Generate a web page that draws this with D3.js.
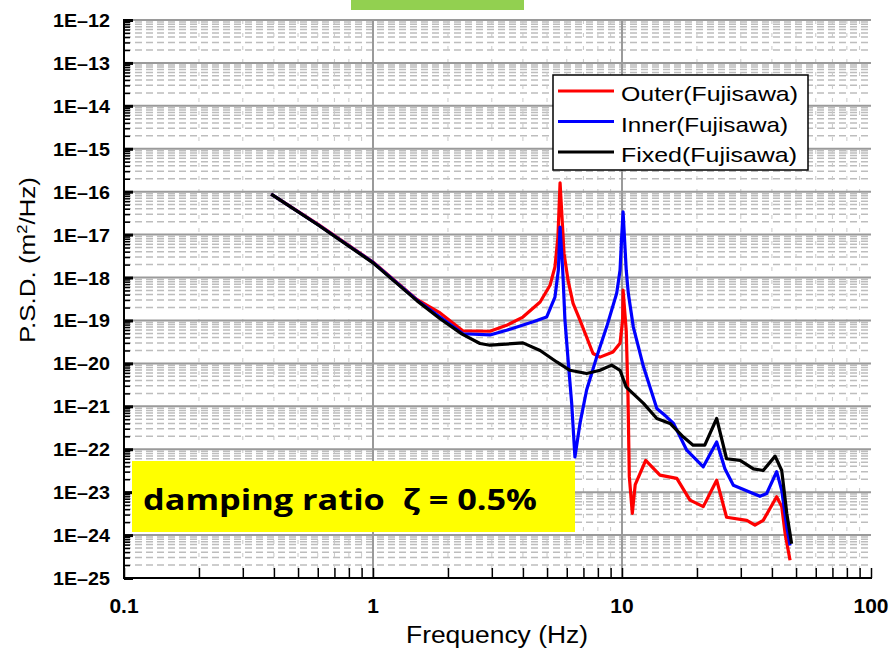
<!DOCTYPE html>
<html>
<head>
<meta charset="utf-8">
<script src="https://cdn.jsdelivr.net/npm/d3@7"></script>
<style>
  body { margin: 0; background: #fff; }
  svg { display: block; }
</style>
</head>
<body>
<script>
// values (PSD, m^2/Hz)
var freqOuter = [0.39, 0.6, 1.0, 1.5, 1.86, 2.3, 2.95, 3.44, 4.0, 4.69, 5.14, 5.38, 5.53, 5.64, 5.85, 6.07, 6.36, 6.78, 7.65, 8.16, 9.2, 9.82, 10.06, 10.1, 10.4, 10.57, 10.7, 11.0, 11.3, 12.45, 14.2, 16.6, 18.75, 21.2, 24.0, 26.3, 31.7, 34.2, 36.9, 41.8, 43.8, 45.2, 47.3];
var psdOuter  = [8.8e-17, 1.75e-17, 2.3e-18, 3.1e-19, 1.5e-19, 5.7e-20, 5.6e-20, 7.7e-20, 1.2e-19, 2.7e-19, 6.6e-19, 1.78e-18, 8.9e-18, 1.6e-16, 3.7e-18, 8.7e-19, 2.5e-19, 1.02e-19, 1.7e-20, 1.4e-20, 1.85e-20, 2.95e-20, 1.02e-19, 5.1e-19, 5.8e-20, 1.7e-21, 2.3e-23, 3.2e-24, 1.5e-23, 5.5e-23, 2.5e-23, 2.1e-23, 6.5e-24, 4.6e-24, 1.9e-23, 2.6e-24, 2.2e-24, 1.7e-24, 2.2e-24, 7.8e-24, 4.6e-24, 1.08e-24, 2.6e-25];

var freqInner = [0.39, 0.6, 1.0, 1.5, 1.86, 2.3, 2.95, 3.44, 4.4, 4.98, 5.38, 5.55, 5.64, 5.78, 5.9, 6.09, 6.28, 6.47, 6.78, 7.21, 7.91, 8.68, 9.52, 9.82, 9.97, 10.1, 10.4, 10.6, 11.1, 12.2, 13.8, 15.1, 16.1, 18.2, 21.2, 24.0, 25.9, 28.0, 32.7, 35.8, 38.1, 41.8, 43.8, 45.9, 47.3];
var psdInner  = [8.8e-17, 1.72e-17, 2.25e-18, 3.0e-19, 1.2e-19, 4.9e-20, 4.6e-20, 5.9e-20, 9.3e-20, 1.2e-19, 3.5e-19, 1.48e-18, 1.5e-17, 1.48e-18, 1.02e-19, 1.0e-20, 1.17e-21, 6.6e-23, 4.0e-22, 2.4e-21, 1.4e-20, 7.1e-20, 4.3e-19, 1.48e-18, 8.9e-18, 3.4e-17, 1.48e-18, 4.3e-19, 7.1e-20, 8.3e-21, 8.9e-22, 5.7e-22, 4.0e-22, 9.5e-23, 3.9e-23, 1.48e-22, 3.5e-23, 1.45e-23, 1.0e-23, 8.0e-24, 9.3e-24, 3.0e-23, 1.1e-23, 1.55e-24, 5.7e-25];

var freqFixed = [0.39, 0.6, 1.0, 1.5, 1.86, 2.28, 2.69, 2.95, 4.0, 4.69, 5.47, 6.18, 7.21, 8.16, 9.09, 9.82, 10.4, 12.2, 13.8, 15.6, 17.6, 19.3, 21.5, 24.0, 26.3, 29.8, 33.7, 36.9, 41.2, 43.8, 45.9, 48.0];
var psdFixed  = [8.8e-17, 1.7e-17, 2.2e-18, 2.9e-19, 1.1e-19, 4.8e-20, 2.9e-20, 2.65e-20, 3.0e-20, 2.0e-20, 1.08e-20, 6.9e-21, 5.8e-21, 6.9e-21, 9.1e-21, 6.9e-21, 2.8e-21, 1.17e-21, 5.2e-22, 4.0e-22, 1.95e-22, 1.24e-22, 1.24e-22, 5.2e-22, 6.0e-23, 5.5e-23, 3.5e-23, 3.2e-23, 6.9e-23, 3.2e-23, 3.2e-24, 6.3e-25];

var seriesNames = ["Outer(Fujisawa)", "Inner(Fujisawa)", "Fixed(Fujisawa)"];
var seriesColors = ["#ff0000", "#0000ff", "#000000"];
var xTickValues = [0.1, 1, 10, 100];
var xTickLabels = ["0.1", "1", "10", "100"];
var yExponents = d3.range(-25, -11);

var width = 890, height = 653;
var plot = {left: 124, right: 871, top: 20, bottom: 578};

var svg = d3.select("body").append("svg")
    .attr("width", width)
    .attr("height", height);

var x = d3.scaleLog().domain([0.1, 100]).range([plot.left, plot.right]);
var y = d3.scaleLog().domain([1e-25, 1e-12]).range([plot.bottom, plot.top]);

// minor positions 2..9 within each decade
var xMinor = [], yMinor = [];
[0.1, 1, 10].forEach(function(d){
    for (var k = 2; k <= 9; k++) xMinor.push(d * k);
});
yExponents.slice(0, -1).forEach(function(e){
    for (var k = 2; k <= 9; k++) yMinor.push(k * Math.pow(10, e));
});

var grid = svg.append("g").attr("class", "grid");

// minor grid, dashed light gray
grid.selectAll(".hminor").data(yMinor).enter().append("line")
    .attr("class", "hminor")
    .attr("x1", plot.left).attr("x2", plot.right)
    .attr("y1", function(d){ return y(d); })
    .attr("y2", function(d){ return y(d); })
    .style("stroke", "#bdbdbd")
    .style("stroke-width", 1.5)
    .style("stroke-dasharray", "7,4");

grid.selectAll(".vminor").data(xMinor).enter().append("line")
    .attr("class", "vminor")
    .attr("x1", function(d){ return x(d); })
    .attr("x2", function(d){ return x(d); })
    .attr("y1", plot.top).attr("y2", plot.bottom)
    .style("stroke", "#c8c8c8")
    .style("stroke-width", 1)
    .style("stroke-dasharray", "4,9");

// major grid
grid.selectAll(".hmajor").data(yExponents.slice(1)).enter().append("line")
    .attr("class", "hmajor")
    .attr("x1", plot.left).attr("x2", plot.right)
    .attr("y1", function(e){ return y(Math.pow(10, e)); })
    .attr("y2", function(e){ return y(Math.pow(10, e)); })
    .style("stroke", "#9a9a9a")
    .style("stroke-width", 2);

grid.selectAll(".vmajor").data([1, 10]).enter().append("line")
    .attr("class", "vmajor")
    .attr("x1", function(d){ return x(d); })
    .attr("x2", function(d){ return x(d); })
    .attr("y1", plot.top).attr("y2", plot.bottom)
    .style("stroke", "#9a9a9a")
    .style("stroke-width", 2);

// axes
var yAxisMinor = d3.axisRight(y).tickValues(yMinor).tickSize(6).tickFormat("");
svg.append("g").attr("transform", "translate(" + plot.left + ",0)").call(yAxisMinor)
    .call(function(g){ g.select(".domain").remove(); })
    .selectAll("line").style("stroke", "#000").style("stroke-width", 1.5);

var yAxis = d3.axisRight(y).tickValues(yExponents.map(function(e){ return Math.pow(10, e); }))
    .tickSize(9).tickFormat("");
svg.append("g").attr("transform", "translate(" + plot.left + ",0)").call(yAxis)
    .call(function(g){ g.select(".domain").remove(); })
    .selectAll("line").style("stroke", "#000").style("stroke-width", 3);

svg.selectAll(".ylab").data(yExponents).enter().append("text")
    .attr("class", "ylab")
    .attr("x", 110)
    .attr("y", function(e){ return y(Math.pow(10, e)) + 7; })
    .attr("text-anchor", "end")
    .attr("textLength", 57)
    .attr("lengthAdjust", "spacingAndGlyphs")
    .style("font-family", "'Liberation Sans', Arial, sans-serif")
    .style("font-weight", "bold")
    .style("font-size", "19px")
    .text(function(e){ return "1E\u2013" + (-e); });

var xAxis = d3.axisTop(x).tickValues(xMinor.concat(xTickValues)).tickSize(10).tickFormat("");
svg.append("g").attr("transform", "translate(0," + plot.bottom + ")").call(xAxis)
    .call(function(g){ g.select(".domain").remove(); })
    .selectAll("line").style("stroke", "#000").style("stroke-width", 1.5);

svg.append("line")
    .attr("x1", plot.left).attr("x2", plot.left)
    .attr("y1", plot.top - 1).attr("y2", plot.bottom + 1)
    .style("stroke", "#000").style("stroke-width", 2);
svg.append("line")
    .attr("x1", plot.left - 1).attr("x2", plot.right + 1)
    .attr("y1", plot.bottom).attr("y2", plot.bottom)
    .style("stroke", "#000").style("stroke-width", 2);

svg.selectAll(".xlab").data(xTickValues).enter().append("text")
    .attr("class", "xlab")
    .attr("x", function(d){ return x(d); })
    .attr("y", 613)
    .attr("text-anchor", "middle")
    .style("font-family", "'Liberation Sans Narrow', 'Liberation Sans', sans-serif")
    .style("font-weight", "bold")
    .style("font-size", "21px")
    .text(function(d, i){ return xTickLabels[i]; });

// axis titles
svg.append("text")
    .attr("x", 497).attr("y", 643)
    .attr("text-anchor", "middle")
    .attr("textLength", 182)
    .attr("lengthAdjust", "spacingAndGlyphs")
    .style("font-family", "'Liberation Sans Narrow', 'Liberation Sans', sans-serif")
    .style("font-size", "23px")
    .text("Frequency (Hz)");

svg.append("text")
    .attr("transform", "translate(35,260) rotate(-90)")
    .attr("text-anchor", "middle")
    .attr("textLength", 166)
    .attr("lengthAdjust", "spacingAndGlyphs")
    .style("font-family", "'Liberation Sans Narrow', 'Liberation Sans', sans-serif")
    .style("font-size", "22px")
    .html("P.S.D. (m<tspan dy='-8' font-size='14px'>2</tspan><tspan dy='8'>/Hz)</tspan>");

// series lines
var line = d3.line()
    .x(function(d){ return x(d[0]); })
    .y(function(d){ return y(d[1]); });

var series = [
    d3.zip(freqOuter, psdOuter),
    d3.zip(freqInner, psdInner),
    d3.zip(freqFixed, psdFixed)
];

svg.selectAll(".series").data(series).enter().append("path")
    .attr("class", "series")
    .attr("d", line)
    .style("fill", "none")
    .style("stroke", function(d, i){ return seriesColors[i]; })
    .style("stroke-width", 3.2)
    .style("stroke-linejoin", "round");

// legend
var legend = svg.append("g").attr("transform", "translate(553,75)");
legend.append("rect")
    .attr("width", 255).attr("height", 95)
    .style("fill", "#fff")
    .style("stroke", "#000")
    .style("stroke-width", 1.5);
var legendLens = [177, 167, 176];
var item = legend.selectAll(".item").data(seriesNames).enter().append("g")
    .attr("class", "item")
    .attr("transform", function(d, i){ return "translate(0," + (16 + i * 30.5) + ")"; });
item.append("line")
    .attr("x1", 5).attr("x2", 61)
    .style("stroke", function(d, i){ return seriesColors[i]; })
    .style("stroke-width", 3);
item.append("text")
    .attr("x", 68).attr("y", 10)
    .attr("textLength", function(d, i){ return legendLens[i]; })
    .attr("lengthAdjust", "spacingAndGlyphs")
    .style("font-family", "'Liberation Sans', Arial, sans-serif")
    .style("font-size", "21px")
    .text(function(d){ return d; });

// annotation boxes
svg.append("rect")
    .attr("x", 351).attr("y", 0).attr("width", 173).attr("height", 10)
    .style("fill", "#92d050");

svg.append("rect")
    .attr("x", 132).attr("y", 461).attr("width", 443).attr("height", 71)
    .style("fill", "#ffff00");
svg.append("text")
    .attr("x", 143).attr("y", 510)
    .attr("textLength", 394)
    .attr("lengthAdjust", "spacingAndGlyphs")
    .style("white-space", "pre")
    .style("font-family", "'Open Sans', 'Noto Sans', sans-serif")
    .style("font-weight", "bold")
    .style("font-size", "28px")
    .text("damping ratio  \u03b6 = 0.5%");
</script>
</body>
</html>
